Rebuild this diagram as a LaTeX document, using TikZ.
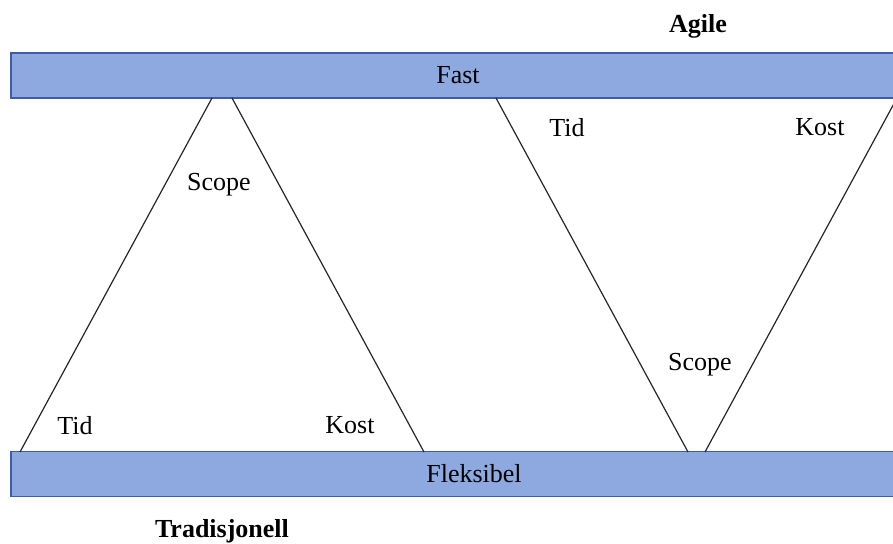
\documentclass[tikz,border=0pt]{standalone}
\usepackage{fontspec}
\setmainfont{Liberation Serif}
\usetikzlibrary{positioning}
\definecolor{barblue}{RGB}{142,168,224}
\definecolor{barline}{RGB}{62,92,168}

\begin{document}
\begin{tikzpicture}[x=0.5pt,y=-0.5pt,
                bar/.style={rectangle,draw=barline,fill=barblue,line width=0.7pt,
                  minimum height=22.5pt,inner sep=0pt,
                  font=\fontsize{13}{15}\selectfont},
                lbl/.style={font=\fontsize{13}{15}\selectfont},
                title/.style={font=\fontsize{13}{15}\selectfont\bfseries},
                side/.style={draw=black!85,line width=0.6pt}]
  \useasboundingbox (0,0) rectangle (893,544);

  % the two bars (they run on past the right edge)
  \node[bar,minimum width=447pt] (fast) at (458,75.5) {Fast};
  \node[bar,minimum width=463pt] (fleks) at (474,474) {Fleksibel};

  % corners where the sides meet the bars
  \coordinate (tl) at (20,452);
  \coordinate (tt1) at (212,98);
  \coordinate (tt2) at (232,98);
  \coordinate (tr) at (424,452);
  \coordinate (vl) at (496,98);
  \coordinate (vb1) at (688,452);
  \coordinate (vb2) at (705,452);
  \coordinate (vr) at (897,98);

  \path
    (tl) edge [side] (tt1)
    (tt2) edge [side] (tr)
    (vl) edge [side] (vb1)
    (vb2) edge [side] (vr)
  ;

  % tradisjonell
  \node[lbl] (scopeT) at (219,185) {Scope};
  \node[lbl] (tidT) at (75,426) {Tid};
  \node[lbl] (kostT) at (350,425) {Kost};
  \node[title] (trad) at (222,531) {Tradisjonell};

  % agile
  \node[lbl] (tidA) at (567,128) {Tid};
  \node[lbl] (kostA) at (820,127) {Kost};
  \node[lbl] (scopeA) at (700,365) {Scope};
  \node[title] (agile) at (698,26) {Agile};
\end{tikzpicture}
\end{document}
